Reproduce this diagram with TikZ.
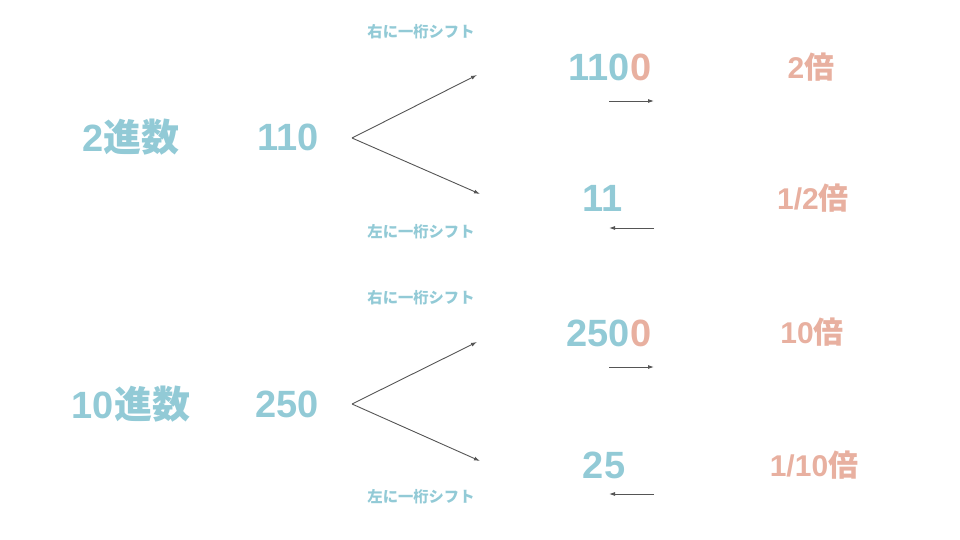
\documentclass[tikz,border=0pt]{standalone}
\usepackage{fontspec}
\setmainfont{Liberation Sans}
\newfontfamily\cjk{Noto Sans CJK JP}
\usetikzlibrary{arrows.meta}
\definecolor{blu}{RGB}{146,202,214}
\definecolor{sal}{RGB}{232,176,160}
\definecolor{arr}{RGB}{85,85,85}
\begin{document}
\begin{tikzpicture}[x=1pt,y=-1pt,
  big/.style={font=\fontsize{38}{40}\selectfont\bfseries, text=blu, inner sep=0pt},
  mult/.style={font=\fontsize{30}{32}\selectfont\bfseries, text=sal, inner sep=0pt},
  lab/.style={font=\fontsize{15.3}{17}\selectfont\cjk\bfseries, text=blu, inner sep=0pt},
  con/.style={draw=arr, line width=0.9pt, -{Latex[length=6pt,width=4pt]}}]
\useasboundingbox (0,0) rectangle (960,540);
% top group
\node[big] (b2) at (131,137) {2{\cjk 進数}};
\node[big] (n110) at (288,137) {110};
\coordinate (apexA) at (352,138);
\coordinate (upA) at (477,75);
\coordinate (dnA) at (480,194);
\draw[con] (apexA) -- (upA);
\draw[con] (apexA) -- (dnA);
\node[lab] (rA) at (421,32) {右に一桁シフト};
\node[lab] (lA) at (421,232) {左に一桁シフト};
\node[big] (n1100) at (610,67) {110\textcolor{sal}{0}};
\node[big] (n11) at (603,198) {11};
\coordinate (s1a) at (609,101);
\coordinate (s1b) at (654,101);
\draw[con] (s1a) -- (s1b);
\coordinate (s2a) at (654,228);
\coordinate (s2b) at (609,228);
\draw[con] (s2a) -- (s2b);
\node[mult] (m2) at (811,67) {2{\cjk 倍}};
\node[mult] (mh) at (813,198) {1/2{\cjk 倍}};
% bottom group
\node[big] (b10) at (131,404) {10{\cjk 進数}};
\node[big] (n250) at (287,404) {250};
\coordinate (apexB) at (352,404);
\coordinate (upB) at (477,342);
\coordinate (dnB) at (480,461);
\draw[con] (apexB) -- (upB);
\draw[con] (apexB) -- (dnB);
\node[lab] (rB) at (421,298) {右に一桁シフト};
\node[lab] (lB) at (421,497) {左に一桁シフト};
\node[big] (n2500) at (609,333) {250\textcolor{sal}{0}};
\node[big] (n25) at (604,465) {25};
\coordinate (s3a) at (609,367);
\coordinate (s3b) at (654,367);
\draw[con] (s3a) -- (s3b);
\coordinate (s4a) at (654,494);
\coordinate (s4b) at (609,494);
\draw[con] (s4a) -- (s4b);
\node[mult] (m10) at (812,332) {10{\cjk 倍}};
\node[mult] (mt) at (814,465) {1/10{\cjk 倍}};
\end{tikzpicture}
\end{document}
